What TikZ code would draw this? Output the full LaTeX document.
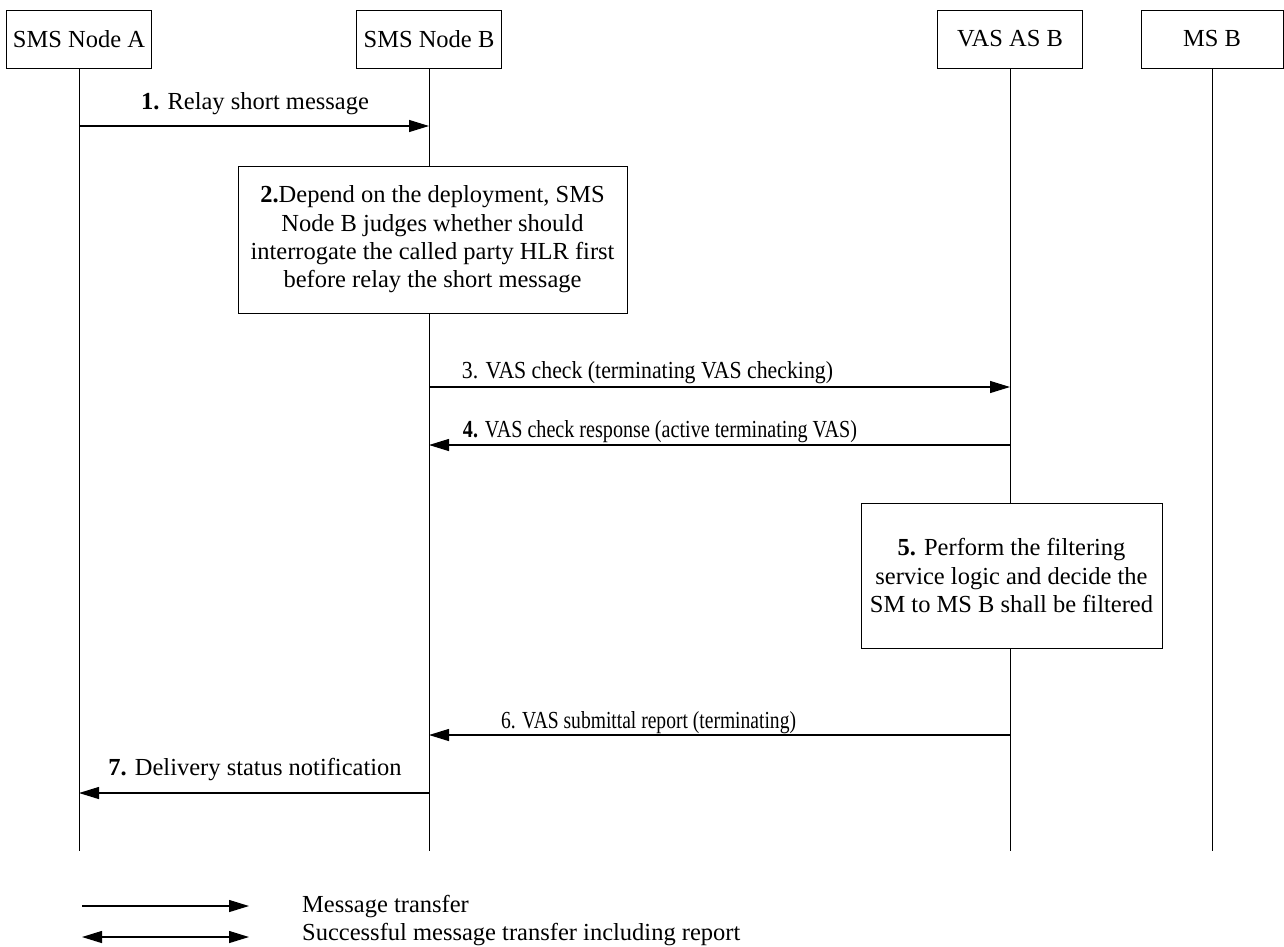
\documentclass[tikz,border=0pt]{standalone}
\usepackage{fontspec}
\setmainfont{Liberation Serif}
\usepackage{graphicx}
\usetikzlibrary{arrows.meta}
\newcommand{\fitw}[2]{\resizebox{#1}{\height}{#2}}
\begin{document}
\begin{tikzpicture}[x=1pt,y=-1pt,
  every node/.style={font=\fontsize{24.5}{28.3}\selectfont},
  head/.style={draw, line width=1pt, minimum width=145pt, minimum height=58pt, inner sep=0pt},
  act/.style={draw, fill=white, line width=1pt, align=center, inner sep=0pt},
  life/.style={line width=1pt},
  msg/.style={line width=1.2pt, -{Triangle[length=20pt,width=12pt]}},
  dmsg/.style={line width=1.2pt, {Triangle[length=20pt,width=12pt]}-{Triangle[length=20pt,width=12pt]}},
  lbl/.style={anchor=base, inner sep=0pt}]
\useasboundingbox (0,0) rectangle (1284,946);

% headers
\node[head] (A) at (79,39) {SMS Node A};
\node[head] (B) at (429,39) {SMS Node B};
\node[head] (V) at (1010,39) {VAS AS B};
\node[head, minimum width=142pt] (M) at (1212,39) {MS B};

% lifelines
\coordinate (Aend) at (79,851);
\coordinate (Bend) at (429,851);
\coordinate (Vend) at (1010,851);
\coordinate (Mend) at (1212,851);
\draw[life] (A.south) -- (Aend);
\draw[life] (B.south) -- (Bend);
\draw[life] (V.south) -- (Vend);
\draw[life] (M.south) -- (Mend);

% action boxes
\node[act, minimum width=389pt, minimum height=147pt] (S2) at (432.5,239.5)
  {\textbf{2.}Depend on the deployment, SMS\\Node B judges whether should\\interrogate the called party HLR first\\before relay the short message};
\node[act, minimum width=301pt, minimum height=145pt] (S5) at (1011.5,575.5)
  {\textbf{5.} Perform the filtering\\service logic and decide the\\SM to MS B shall be filtered};

% message end points
\coordinate (a1) at (79,126);  \coordinate (b1) at (429,126);
\coordinate (b3) at (429,387); \coordinate (v3) at (1010,387);
\coordinate (b4) at (429,445); \coordinate (v4) at (1010,445);
\coordinate (b6) at (429,735); \coordinate (v6) at (1010,735);
\coordinate (a7) at (79,793);  \coordinate (b7) at (429,793);

\draw[msg] (a1) -- (b1);
\draw[msg] (b3) -- (v3);
\draw[msg] (v4) -- (b4);
\draw[msg] (v6) -- (b6);
\draw[msg] (b7) -- (a7);

% message labels
\node[lbl] (l1) at (255,109) {\textbf{1.} Relay short message};
\node[lbl] (l3) at (647.5,378) {\fitw{371pt}{3. VAS check (terminating VAS checking)}};
\node[lbl] (l4) at (660,437) {\fitw{394pt}{\textbf{4.} VAS check response (active terminating VAS)}};
\node[lbl] (l6) at (648.5,728) {\fitw{295pt}{6. VAS submittal report (terminating)}};
\node[lbl] (l7) at (255,775) {\textbf{7.} Delivery status notification};

% legend
\coordinate (L1s) at (82,906); \coordinate (L1e) at (249,906);
\coordinate (L2s) at (82,937); \coordinate (L2e) at (249,937);
\draw[msg] (L1s) -- (L1e);
\draw[dmsg] (L2s) -- (L2e);
\node[anchor=base west, inner sep=0pt] (T1) at (302,912) {Message transfer};
\node[anchor=base west, inner sep=0pt] (T2) at (302,940) {Successful message transfer including report};
\end{tikzpicture}
\end{document}
